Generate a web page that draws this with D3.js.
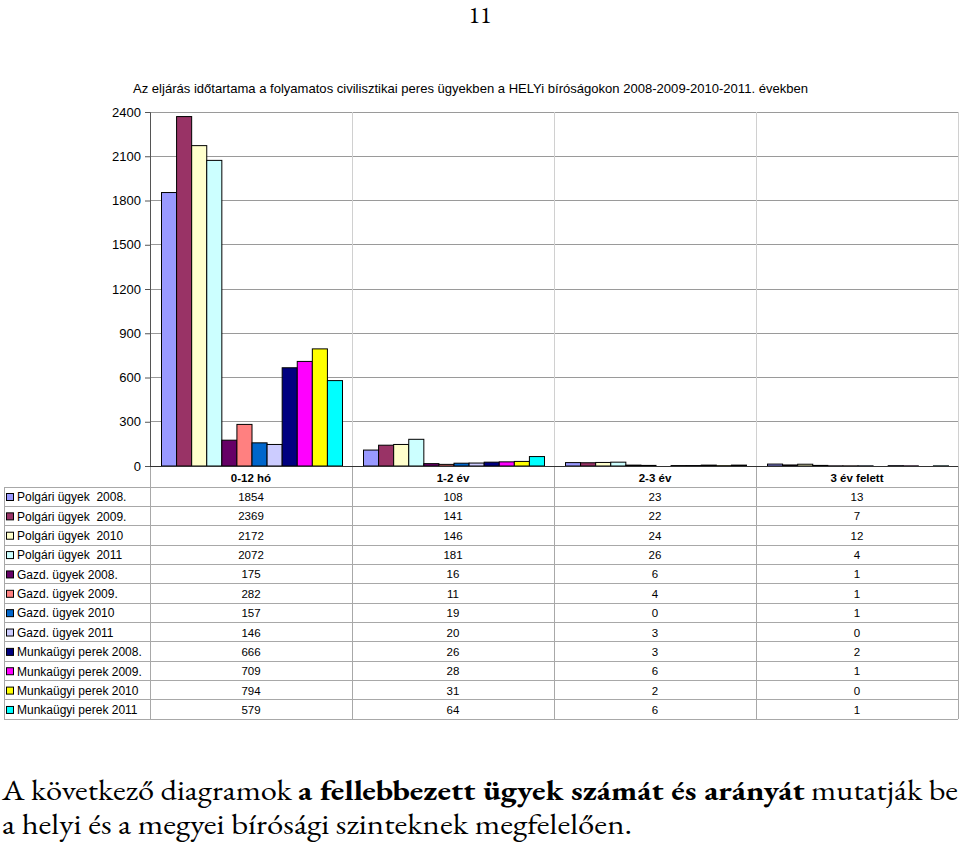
<!DOCTYPE html>
<html><head><meta charset="utf-8">
<script src="https://cdn.jsdelivr.net/npm/d3@7"></script>
<style>
body{margin:0;background:#fff;}
svg{display:block;}
</style></head>
<body>
<script>
// ---- data ----
const categories = ["0-12 hó", "1-2 év", "2-3 év", "3 év felett"];
const seriesNames = [
  "Polgári ügyek  2008.", "Polgári ügyek  2009.", "Polgári ügyek  2010", "Polgári ügyek  2011",
  "Gazd. ügyek 2008.", "Gazd. ügyek 2009.", "Gazd. ügyek 2010", "Gazd. ügyek 2011",
  "Munkaügyi perek 2008.", "Munkaügyi perek 2009.", "Munkaügyi perek 2010", "Munkaügyi perek 2011"
];
const seriesColors = ["#9999FF","#993366","#FFFFCC","#CCFFFF","#660066","#FF8080","#0066CC","#CCCCFF","#000080","#FF00FF","#FFFF00","#00FFFF"];
const values0to12 = [1854, 2369, 2172, 2072, 175, 282, 157, 146, 666, 709, 794, 579];
const values1to2 = [108, 141, 146, 181, 16, 11, 19, 20, 26, 28, 31, 64];
const values2to3 = [23, 22, 24, 26, 6, 4, 0, 3, 3, 6, 2, 6];
const valuesOver3 = [13, 7, 12, 4, 1, 1, 1, 0, 2, 1, 0, 1];
const yTicks = [0, 300, 600, 900, 1200, 1500, 1800, 2100, 2400];
const chartTitle = "Az eljárás időtartama a folyamatos civilisztikai peres ügyekben a HELYi bíróságokon 2008-2009-2010-2011. években";

const columns = [values0to12, values1to2, values2to3, valuesOver3];

// ---- layout ----
const W = 960, H = 846;
const plotL = 150, plotR = 958, plotT = 112, plotB = 466;
const tableL = 4, rowTop = 487, rowH = 19.36;
const sans = "'Liberation Sans', Arimo, Arial, sans-serif";
const garamond = "'EB Garamond', 'Liberation Serif', serif";

const svg = d3.select("body").append("svg").attr("width", W).attr("height", H);

// page number
svg.append("text").attr("x", 480).attr("y", 23).attr("text-anchor", "middle")
  .style("font-family", garamond).style("font-size", "24px").text("11");

// title
svg.append("text").attr("x", 133).attr("y", 93)
  .style("font-family", sans).style("font-size", "13px")
  .attr("textLength", 675).attr("lengthAdjust", "spacingAndGlyphs")
  .attr("fill", "#000").text(chartTitle);

const x0 = d3.scaleBand().domain(categories).range([plotL, plotR]).paddingInner(0).paddingOuter(0);
const x1 = d3.scaleBand().domain(d3.range(seriesNames.length)).range([11.5, x0.bandwidth() - 9.5]);
const y = d3.scaleLinear().domain([0, 2400]).range([plotB, plotT]);

// horizontal gridlines
svg.append("g").selectAll("line").data(yTicks.filter(d => d > 0)).join("line")
  .attr("x1", plotL).attr("x2", plotR).attr("y1", d => y(d)).attr("y2", d => y(d))
  .attr("stroke", "#9a9a9a").attr("stroke-width", 1).attr("shape-rendering", "crispEdges");

// vertical lines at category boundaries (plot + table)
const tableBottom = rowTop + rowH * seriesNames.length;
const vXs = categories.map(c => x0(c) + x0.bandwidth());
svg.append("g").selectAll("line").data(vXs).join("line")
  .attr("x1", d => d).attr("x2", d => d).attr("y1", plotT).attr("y2", plotB)
  .attr("stroke", "#d0d0d0").attr("shape-rendering", "crispEdges");
svg.append("g").selectAll("line").data(vXs).join("line")
  .attr("x1", d => d).attr("x2", d => d).attr("y1", plotB).attr("y2", tableBottom)
  .attr("stroke", "#a8a8a8").attr("shape-rendering", "crispEdges");

// bars
const groups = svg.append("g").selectAll("g").data(categories).join("g")
  .attr("transform", d => `translate(${x0(d)},0)`);
groups.selectAll("rect").data((c, ci) => columns[ci].map((v, si) => ({v, si})))
  .join("rect")
  .attr("x", d => x1(d.si)).attr("width", x1.bandwidth())
  .attr("y", d => y(d.v)).attr("height", d => Math.max(0, plotB - y(d.v)))
  .attr("fill", d => seriesColors[d.si]).attr("stroke", "#000").attr("stroke-width", 1);

// y axis
const yAxis = d3.axisLeft(y).tickValues(yTicks).tickSize(5).tickPadding(4).tickFormat(d3.format("d"));
const ya = svg.append("g").attr("transform", `translate(${plotL},0)`).call(yAxis);
ya.select(".domain").attr("stroke", "#555");
ya.selectAll(".tick line").attr("stroke", "#555");
ya.selectAll("text").style("font-family", sans).style("font-size", "13px").attr("fill", "#000");

// table left border continuing axis
svg.append("line").attr("x1", plotL).attr("x2", plotL).attr("y1", plotB).attr("y2", tableBottom)
  .attr("stroke", "#a8a8a8").attr("shape-rendering", "crispEdges");

// x axis line
svg.append("line").attr("x1", plotL).attr("x2", plotR).attr("y1", plotB).attr("y2", plotB)
  .attr("stroke", "#333").attr("shape-rendering", "crispEdges");

// ---- data table ----
const tg = svg.append("g");
tg.selectAll("line.h").data(d3.range(seriesNames.length + 1)).join("line").attr("class", "h")
  .attr("x1", tableL).attr("x2", plotR)
  .attr("y1", i => rowTop + i * rowH).attr("y2", i => rowTop + i * rowH)
  .attr("stroke", "#a8a8a8").attr("shape-rendering", "crispEdges");
tg.append("line").attr("x1", tableL).attr("x2", tableL).attr("y1", rowTop).attr("y2", tableBottom)
  .attr("stroke", "#a8a8a8").attr("shape-rendering", "crispEdges");

// header labels
tg.selectAll("text.hdr").data(categories).join("text").attr("class", "hdr")
  .attr("x", d => x0(d) + x0.bandwidth() / 2).attr("y", 482)
  .attr("text-anchor", "middle").style("font-family", sans).style("font-size", "11.5px")
  .style("font-weight", "bold").text(d => d);

// row labels + keys
const rows = tg.selectAll("g.row").data(seriesNames).join("g").attr("class", "row")
  .attr("transform", (d, i) => `translate(0,${rowTop + i * rowH})`);
rows.append("rect").attr("x", 6.5).attr("y", 6.5).attr("width", 7).attr("height", 7)
  .attr("fill", (d, i) => seriesColors[i]).attr("stroke", "#000").attr("stroke-width", 1);
rows.append("text").attr("x", 17).attr("y", 14.3).style("font-family", sans)
  .style("font-size", "12px").style("white-space", "pre").attr("fill", "#000").text(d => d);
rows.each(function(d, si) {
  d3.select(this).selectAll("text.val").data(categories).join("text").attr("class", "val")
    .attr("x", c => x0(c) + x0.bandwidth() / 2).attr("y", 14)
    .attr("text-anchor", "middle").style("font-family", sans).style("font-size", "11.5px")
    .text((c, ci) => columns[ci][si]);
});

// ---- bottom paragraph ----
const p1 = svg.append("text").attr("x", 2).attr("y", 800).style("font-family", garamond).style("font-size", "28px")
  .attr("textLength", 956).attr("lengthAdjust", "spacingAndGlyphs");
p1.append("tspan").text("A következő diagramok ");
p1.append("tspan").style("font-weight", "bold").text("a fellebbezett ügyek számát és arányát");
p1.append("tspan").text(" mutatják be");
svg.append("text").attr("x", 2).attr("y", 834).style("font-family", garamond).style("font-size", "28px")
  .attr("textLength", 630).attr("lengthAdjust", "spacingAndGlyphs")
  .text("a helyi és a megyei bírósági szinteknek megfelelően.");
</script>
</body></html>
